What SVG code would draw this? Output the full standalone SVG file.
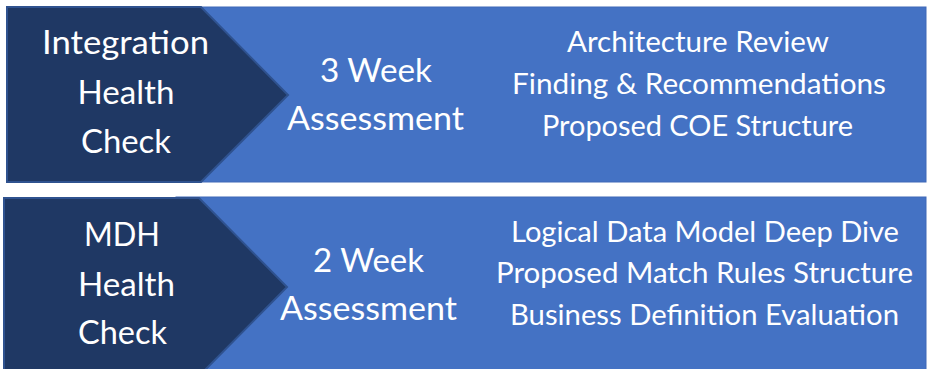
<svg xmlns="http://www.w3.org/2000/svg" width="930" height="369" viewBox="0 0 930 369">
<style>
.band{fill:#4472C4;stroke:#3E69B8;stroke-width:1}
.chev{fill:#1F3864;stroke:#2F528F;stroke-width:2;stroke-linejoin:miter}
text{font-family:Lato,"Open Sans","Liberation Sans",sans-serif;fill:#FFFFFF;text-anchor:middle}
.big{font-size:33.5px}
.mid{font-size:29px}
</style>
<rect width="930" height="369" fill="#FFFFFF"/>
<g id="row1">
  <g id="band1">
    <rect class="band" x="200" y="7" width="726" height="175"/>
    <text class="big" x="376" y="82" textLength="112" lengthAdjust="spacingAndGlyphs">3 Week</text>
    <text class="big" x="375.5" y="130" textLength="177" lengthAdjust="spacingAndGlyphs">Assessment</text>
    <text class="mid" x="698" y="52" textLength="262" lengthAdjust="spacingAndGlyphs">Architecture Review</text>
    <text class="mid" x="699" y="94" textLength="374" lengthAdjust="spacingAndGlyphs">Finding &amp; Recommendations</text>
    <text class="mid" x="697.5" y="136" textLength="311" lengthAdjust="spacingAndGlyphs">Proposed COE Structure</text>
  </g>
  <g id="chevron1">
    <polygon class="chev" points="7,7 201,7 288,95 201,182 7,182"/>
    <text class="big" x="125.5" y="54" textLength="167" lengthAdjust="spacingAndGlyphs">Integration</text>
    <text class="big" x="126" y="104" textLength="97" lengthAdjust="spacingAndGlyphs">Health</text>
    <text class="big" x="126" y="153" textLength="90" lengthAdjust="spacingAndGlyphs">Check</text>
  </g>
</g>
<g id="row2">
  <g id="band2">
    <rect class="band" x="176" y="197" width="750" height="185"/>
    <text class="big" x="368.5" y="272" textLength="111" lengthAdjust="spacingAndGlyphs">2 Week</text>
    <text class="big" x="368.5" y="320" textLength="177" lengthAdjust="spacingAndGlyphs">Assessment</text>
    <text class="mid" x="705" y="242" textLength="388" lengthAdjust="spacingAndGlyphs">Logical Data Model Deep Dive</text>
    <text class="mid" x="704.5" y="283" textLength="417" lengthAdjust="spacingAndGlyphs">Proposed Match Rules Structure</text>
    <text class="mid" x="704.5" y="325" textLength="389" lengthAdjust="spacingAndGlyphs">Business Definition Evaluation</text>
  </g>
  <g id="chevron2">
    <polygon class="chev" points="4,198 199,198 287,287 199,376 4,376"/>
    <text class="big" x="122" y="246" textLength="76" lengthAdjust="spacingAndGlyphs">MDH</text>
    <text class="big" x="126.5" y="296" textLength="97" lengthAdjust="spacingAndGlyphs">Health</text>
    <text class="big" x="122.5" y="344" textLength="89" lengthAdjust="spacingAndGlyphs">Check</text>
  </g>
</g>
<g id="connectors"></g>
</svg>
